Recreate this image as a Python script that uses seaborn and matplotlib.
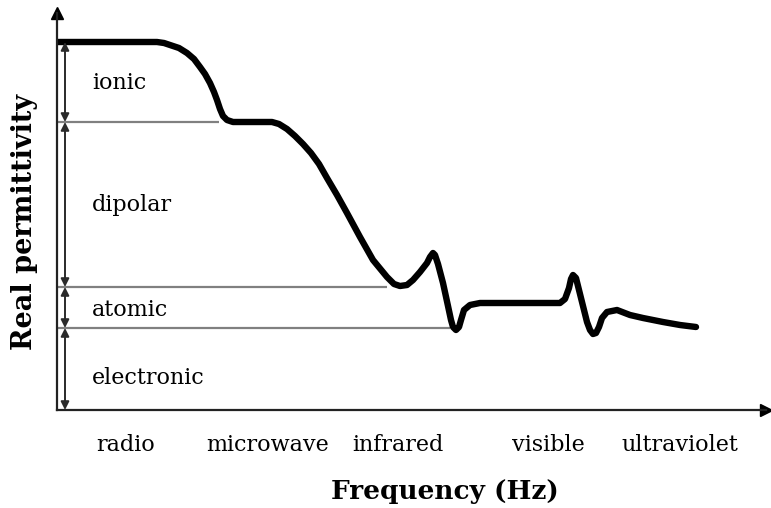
import matplotlib
matplotlib.use("Agg")
import matplotlib.pyplot as plt
import seaborn as sns

# Spectrum bands along the frequency axis
bands = ["radio", "microwave", "infrared", "visible", "ultraviolet"]
band_pos = [0.69, 2.11, 3.41, 4.91, 6.23]

# Polarisation mechanisms and the permittivity level each one adds
mechanisms = ["ionic", "dipolar", "atomic", "electronic"]
level_top = [3.68, 2.88, 1.23, 0.82]
level_bottom = [2.88, 1.23, 0.82, 0.00]
step_end = [1.62, 3.30, 3.93]      # where each plateau line meets the curve
label_y = [3.27, 2.05, 1.00, 0.32]

# Schematic real permittivity vs. frequency
freq = [0.00, 1.00, 1.07, 1.13, 1.22, 1.30, 1.37, 1.43, 1.48, 1.53, 1.57, 1.60,
        1.63, 1.66, 1.70, 1.76, 2.15, 2.22, 2.30, 2.38, 2.46, 2.54, 2.62, 2.70,
        2.80, 2.90, 3.03, 3.16, 3.30, 3.37, 3.43, 3.50, 3.56, 3.63, 3.70, 3.73,
        3.76, 3.78, 3.81, 3.86, 3.91, 3.94, 3.96, 3.99, 4.02, 4.04, 4.07, 4.13,
        4.23, 5.03, 5.08, 5.12, 5.14, 5.16, 5.19, 5.22, 5.26, 5.30, 5.33, 5.36,
        5.39, 5.42, 5.45, 5.50, 5.60, 5.73, 5.86, 6.06, 6.23, 6.39]
eps = [3.68, 3.68, 3.67, 3.65, 3.62, 3.57, 3.51, 3.43, 3.36, 3.27, 3.18, 3.10,
       3.01, 2.94, 2.90, 2.88, 2.88, 2.86, 2.81, 2.74, 2.66, 2.57, 2.46, 2.32,
       2.15, 1.97, 1.73, 1.50, 1.33, 1.26, 1.24, 1.25, 1.30, 1.38, 1.47, 1.53,
       1.57, 1.55, 1.46, 1.27, 1.04, 0.90, 0.83, 0.80, 0.83, 0.90, 1.00, 1.05,
       1.07, 1.07, 1.11, 1.22, 1.31, 1.35, 1.32, 1.20, 1.04, 0.88, 0.80, 0.76,
       0.77, 0.83, 0.92, 0.98, 1.00, 0.95, 0.92, 0.88, 0.85, 0.83]

sns.set_theme(style="white")
plt.rcParams["font.family"] = ["DejaVu Serif"]
plt.rcParams["text.color"] = "black"
plt.rcParams["xtick.color"] = "black"
plt.rcParams["axes.labelcolor"] = "black"

W, H = 771, 508
fig = plt.figure(figsize=(W / 100, H / 100), dpi=100)
ax = fig.add_axes([57 / W, (H - 410) / H, (766 - 57) / W, (410 - 13) / H])

sns.lineplot(x=freq, y=eps, ax=ax, color="black", lw=4.6, sort=False,
             estimator=None, solid_joinstyle="round", solid_capstyle="round")

ax.set_xlim(0, 7.09)
ax.set_ylim(0, 3.97)

# plateau lines
ax.hlines(level_top[1:], 0, step_end, color="#808080", lw=1.6, zorder=1)

# double-headed arrows marking each contribution
for top, bot in zip(level_top, level_bottom):
    ax.annotate("", xy=(0.08, bot), xytext=(0.08, top),
                arrowprops=dict(arrowstyle="<|-|>", color="#2a2a2a", lw=1.4,
                                mutation_scale=12, shrinkA=0, shrinkB=0))

for name, y in zip(mechanisms, label_y):
    ax.text(0.35, y, name, va="center", ha="left", fontsize=16, color="black")

# axes drawn as arrows
for s in ["top", "right"]:
    ax.spines[s].set_visible(False)
for s in ["left", "bottom"]:
    ax.spines[s].set_color("#222222")
    ax.spines[s].set_linewidth(1.6)
ax.plot(1, 0, ">", color="black", ms=9, transform=ax.transAxes, clip_on=False)
ax.plot(0, 1, "^", color="black", ms=9, transform=ax.transAxes, clip_on=False)

ax.set_xticks(band_pos, bands, fontsize=16)
ax.set_yticks([])
ax.tick_params(axis="x", length=0, pad=17)

ax.set_xlabel("Frequency (Hz)", fontsize=19, fontweight="bold", va="center")
ax.xaxis.set_label_coords((445 - 57) / 709, -(492 - 410) / 397)
ax.set_ylabel("Real permittivity", fontsize=19.5, fontweight="bold",
              va="center")
ax.yaxis.set_label_coords((25 - 57) / 709, (410 - 222) / 397)

fig.savefig("out.png", dpi=100, facecolor="white")
